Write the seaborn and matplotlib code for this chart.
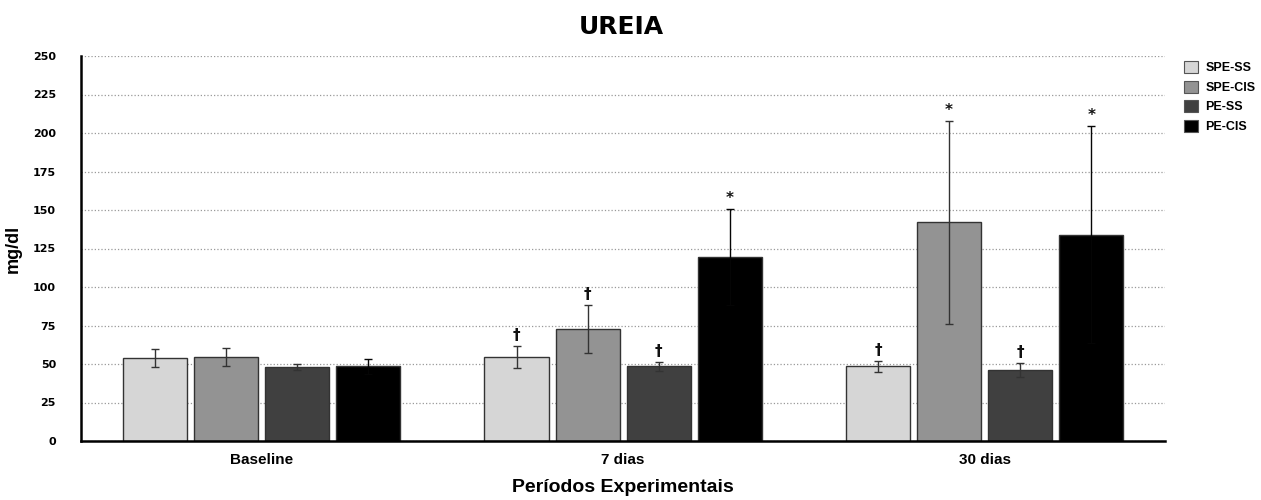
import numpy as np
import pandas as pd
import seaborn as sns
import matplotlib.pyplot as plt
from matplotlib.patches import Patch

# data
periods = ["Baseline", "7 dias", "30 dias"]
groups = ["SPE-SS", "SPE-CIS", "PE-SS", "PE-CIS"]
spe_ss = [54, 54.5, 48.5]
spe_cis = [54.5, 72.5, 142]
pe_ss = [48, 48.5, 46]
pe_cis = [48.5, 119.5, 134]
spe_ss_err = [6, 7, 3.5]
spe_cis_err = [6, 15.5, 66]
pe_ss_err = [2, 3, 4.7]
pe_cis_err = [5, 31, 70.5]
marks_7 = ["†", "†", "†", "*"]
marks_30 = ["†", "*", "†", "*"]
colors = ["#d6d6d6", "#939393", "#404040", "#000000"]

sns.set_style("white")
plt.rcParams['font.family'] = ['Liberation Sans', 'DejaVu Sans']
plt.rcParams['text.color'] = 'black'
plt.rcParams['axes.labelcolor'] = 'black'
plt.rcParams['xtick.color'] = 'black'
plt.rcParams['ytick.color'] = 'black'

rows = []
for g, vals, errs in zip(groups, [spe_ss, spe_cis, pe_ss, pe_cis],
                         [spe_ss_err, spe_cis_err, pe_ss_err, pe_cis_err]):
    for p, v, e in zip(periods, vals, errs):
        rows.append({"periodo": p, "grupo": g, "valor": v, "erro": e})
df = pd.DataFrame(rows)

fig = plt.figure(figsize=(12.61, 5.0), dpi=100)
ax = fig.add_axes([0.0642, 0.118, 0.860, 0.770])

sns.barplot(data=df, x="periodo", y="valor", hue="grupo", order=periods,
            hue_order=groups, palette=colors, width=0.787, gap=0.1,
            edgecolor="#333333", linewidth=1.0, errorbar=None, legend=False, ax=ax)

# error bars and significance marks, positioned from the drawn bars
marks = {"7 dias": marks_7, "30 dias": marks_30}
for gi, (cont, g) in enumerate(zip(ax.containers, groups)):
    sub = df[df.grupo == g].set_index("periodo").loc[periods]
    for bar, p in zip(cont, periods):
        xc = bar.get_x() + bar.get_width() / 2
        v = sub.loc[p, "valor"]
        e = sub.loc[p, "erro"]
        ecol = "#050505" if g == "PE-CIS" else "#333333"
        ax.errorbar(xc, v, yerr=e, fmt="none", ecolor=ecol,
                    elinewidth=1.0, capsize=3, capthick=1.0, zorder=3)
        if p in marks:
            ax.text(xc, v + e + 2, marks[p][gi], ha="center", va="bottom",
                    fontsize=11, fontweight="bold", color="#111111",
                    family=['DejaVu Sans'])

ax.set_xlim(-0.5, 2.5)
ax.set_ylim(0, 250)
ax.set_yticks(np.arange(0, 251, 25))
ax.set_yticks(np.arange(0, 251, 12.5), minor=True)
ax.yaxis.grid(True, which="major", linestyle=":", color="#999999", linewidth=0.9)
ax.set_axisbelow(True)

ax.set_xticks([0, 1, 2])
ax.set_xticklabels(periods, fontweight="bold", fontsize=11)
ax.set_xticks([0.5, 1.5, 2.5], minor=True)
ax.tick_params(axis="x", which="major", length=0, pad=9)
ax.tick_params(axis="x", which="minor", length=6, width=1.5, direction="inout")
ax.tick_params(axis="y", which="both", length=4, width=1.2, direction="out", pad=14)
for lbl in ax.get_yticklabels():
    lbl.set_fontweight("bold")
    lbl.set_fontsize(8)
    lbl.set_family(['DejaVu Sans'])

for s in ["top", "right"]:
    ax.spines[s].set_visible(False)
for s in ["left", "bottom"]:
    ax.spines[s].set_linewidth(1.8)
    ax.spines[s].set_color("black")

ax.set_ylabel("mg/dl", fontsize=13, fontweight="bold", labelpad=8)
ax.set_xlabel("Períodos Experimentais", fontsize=14, fontweight="bold", labelpad=8)

fig.text(0.493, 0.947, "UREIA", ha="center", va="center", fontsize=18,
         fontweight="bold", family=['DejaVu Sans'])

handles = [Patch(facecolor=c, edgecolor="#555555", linewidth=0.8) for c in colors]
leg = fig.legend(handles, groups, loc="upper left", bbox_to_anchor=(0.935, 0.888),
                 frameon=False, prop={"weight": "bold", "size": 9},
                 handlelength=1.1, handleheight=1.1, handletextpad=0.6,
                 labelspacing=0.5, borderaxespad=0)

fig.savefig("out.png", dpi=100)
